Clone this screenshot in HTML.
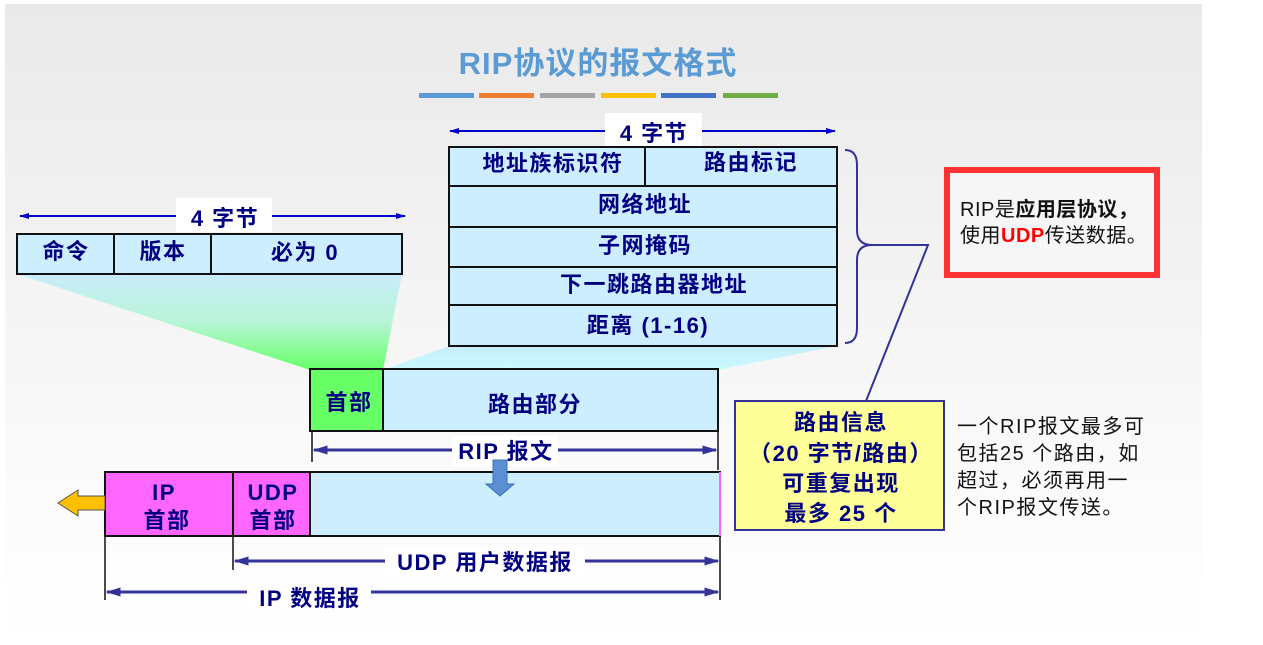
<!DOCTYPE html>
<html><head><meta charset="utf-8"><style>
html,body{margin:0;padding:0;background:#fff;}
svg{display:block;}
text{font-family:"Liberation Sans","Noto Sans CJK SC",sans-serif;}
.b{font-weight:bold;fill:#000080;font-size:22px;letter-spacing:1.5px;}
</style></head><body>
<svg width="1263" height="645" xmlns="http://www.w3.org/2000/svg">
<defs>
<linearGradient id="bg" x1="0" y1="0" x2="0" y2="1"><stop offset="0" stop-color="#e9e9e9"/><stop offset="0.75" stop-color="#fbfbfb"/><stop offset="1" stop-color="#ffffff"/></linearGradient>
<linearGradient id="gl" x1="0" y1="0" x2="0" y2="1"><stop offset="0" stop-color="#c8ecfb"/><stop offset="0.5" stop-color="#b8f5d8"/><stop offset="1" stop-color="#66ff66"/></linearGradient>
<linearGradient id="gr" x1="0" y1="0" x2="0" y2="1"><stop offset="0" stop-color="#c8ecfb"/><stop offset="1" stop-color="#c8fbff"/></linearGradient>
<marker id="ah" viewBox="0 0 10 10" refX="9" refY="5" markerWidth="5" markerHeight="5" orient="auto-start-reverse"><path d="M0,2 L10,5 L0,8 z" fill="#0000cc"/></marker>
<marker id="ah2" viewBox="0 0 10 10" refX="9" refY="5" markerWidth="5" markerHeight="5" orient="auto-start-reverse"><path d="M0,2 L10,5 L0,8 z" fill="#333399"/></marker>
</defs>
<rect x="5" y="4" width="1197" height="641" fill="url(#bg)"/>
<text x="598" y="74" text-anchor="middle" font-size="31" fill="#5b9bd5" font-weight="bold" letter-spacing="1">RIP协议的报文格式</text>
<rect x="419" y="93" width="55" height="5" fill="#5b9bd5"/>
<rect x="479" y="93" width="55" height="5" fill="#ed7d31"/>
<rect x="540" y="93" width="55" height="5" fill="#a5a5a5"/>
<rect x="601" y="93" width="55" height="5" fill="#ffc000"/>
<rect x="661" y="93" width="55" height="5" fill="#4472c4"/>
<rect x="723" y="93" width="55" height="5" fill="#70ad47"/>
<polygon points="17,274 402,274 383,370 310,370" fill="url(#gl)"/>
<polygon points="449,346 837,346 718,370 383,370" fill="url(#gr)"/>
<line x1="450" y1="131" x2="835" y2="131" stroke="#0000cc" stroke-width="2" marker-start="url(#ah)" marker-end="url(#ah)"/>
<rect x="605" y="113" width="97" height="34" fill="#fff"/>
<text x="654" y="141" text-anchor="middle" class="b">4 字节</text>
<g stroke="#111" stroke-width="2" fill="#cceeff">
<rect x="449" y="147" width="388" height="199"/>
<line x1="449" y1="186" x2="837" y2="186"/>
<line x1="449" y1="227" x2="837" y2="227"/>
<line x1="449" y1="267" x2="837" y2="267"/>
<line x1="449" y1="305" x2="837" y2="305"/>
<line x1="645" y1="147" x2="645" y2="186"/>
</g>
<text x="553" y="171" text-anchor="middle" class="b">地址族标识符</text>
<text x="751" y="170" text-anchor="middle" class="b">路由标记</text>
<text x="645" y="212" text-anchor="middle" class="b">网络地址</text>
<text x="645" y="253" text-anchor="middle" class="b">子网掩码</text>
<text x="654" y="292" text-anchor="middle" class="b">下一跳路由器地址</text>
<text x="648" y="333" text-anchor="middle" class="b">距离 (1-16)</text>
<path d="M845,150 Q857,150 857,165 L857,230 Q857,245 872,245 Q857,245 857,260 L857,328 Q857,343 845,343" fill="none" stroke="#333399" stroke-width="2"/>
<polyline points="872,245 928,245 866,401" fill="none" stroke="#333399" stroke-width="2"/>
<line x1="20" y1="216" x2="405" y2="216" stroke="#0000cc" stroke-width="2" marker-start="url(#ah)" marker-end="url(#ah)"/>
<rect x="176" y="198" width="96" height="34" fill="#fff"/>
<text x="225" y="226" text-anchor="middle" class="b">4 字节</text>
<g stroke="#111" stroke-width="2" fill="#cceeff">
<rect x="17" y="234" width="385" height="40"/>
<line x1="114" y1="234" x2="114" y2="274"/>
<line x1="211" y1="234" x2="211" y2="274"/>
</g>
<text x="66" y="259" text-anchor="middle" class="b">命令</text>
<text x="163" y="259" text-anchor="middle" class="b">版本</text>
<text x="305" y="260" text-anchor="middle" class="b">必为 0</text>
<rect x="310" y="369" width="73" height="62" fill="#66ff66" stroke="#111" stroke-width="2"/>
<rect x="383" y="369" width="335" height="62" fill="#cceeff" stroke="#111" stroke-width="2"/>
<text x="349" y="410" text-anchor="middle" class="b">首部</text>
<text x="535" y="412" text-anchor="middle" class="b">路由部分</text>
<line x1="312" y1="431" x2="312" y2="462" stroke="#111" stroke-width="1.5"/>
<line x1="718" y1="431" x2="718" y2="470" stroke="#111" stroke-width="1.5"/>
<line x1="314" y1="450" x2="716" y2="450" stroke="#333399" stroke-width="3" marker-start="url(#ah2)" marker-end="url(#ah2)"/>
<rect x="452" y="436" width="106" height="30" fill="#fff"/>
<text x="506" y="459" text-anchor="middle" class="b">RIP 报文</text>
<rect x="105" y="472" width="128" height="64" fill="#ff66ff" stroke="#111" stroke-width="2"/>
<rect x="233" y="472" width="77" height="64" fill="#ff66ff" stroke="#111" stroke-width="2"/>
<rect x="310" y="472" width="410" height="64" fill="#cceeff" stroke="#111" stroke-width="2"/>
<line x1="720" y1="472" x2="720" y2="536" stroke="#ff66ff" stroke-width="2"/>
<text x="164" y="500" text-anchor="middle" class="b">IP</text>
<text x="167" y="528" text-anchor="middle" class="b">首部</text>
<text x="273" y="500" text-anchor="middle" class="b">UDP</text>
<text x="273" y="528" text-anchor="middle" class="b">首部</text>
<polygon points="493,460 507,460 507,484 514,484 500,496 486,484 493,484" fill="#5b8fd5" stroke="#3a6fb0" stroke-width="1"/>
<polygon points="105,496 78,496 78,490 58,503 78,516 78,510 105,510" fill="#ffc000" stroke="#555" stroke-width="1"/>
<line x1="233" y1="536" x2="233" y2="570" stroke="#111" stroke-width="1.5"/>
<line x1="105" y1="536" x2="105" y2="600" stroke="#111" stroke-width="1.5"/>
<line x1="720" y1="536" x2="720" y2="600" stroke="#111" stroke-width="1.5"/>
<line x1="235" y1="561" x2="718" y2="561" stroke="#333399" stroke-width="3" marker-start="url(#ah2)" marker-end="url(#ah2)"/>
<rect x="385" y="546" width="200" height="32" fill="#fff"/>
<text x="485" y="570" text-anchor="middle" class="b">UDP 用户数据报</text>
<line x1="107" y1="592" x2="718" y2="592" stroke="#333399" stroke-width="3" marker-start="url(#ah2)" marker-end="url(#ah2)"/>
<rect x="247" y="578" width="124" height="32" fill="#fff"/>
<text x="310" y="606" text-anchor="middle" class="b">IP 数据报</text>
<rect x="735" y="401" width="209" height="129" fill="#ffff99" stroke="#333399" stroke-width="2"/>
<text x="841" y="430" text-anchor="middle" class="b">路由信息</text>
<text x="841" y="461" text-anchor="middle" class="b">（20 字节/路由）</text>
<text x="841" y="491" text-anchor="middle" class="b">可重复出现</text>
<text x="841" y="521" text-anchor="middle" class="b">最多 25 个</text>
<g font-size="20" fill="#111" letter-spacing="1.5" font-family="Liberation Serif, Noto Serif CJK SC, serif">
<text x="957" y="433">一个RIP报文最多可</text>
<text x="957" y="460">包括25 个路由，如</text>
<text x="957" y="487">超过，必须再用一</text>
<text x="957" y="514">个RIP报文传送。</text>
</g>
<rect x="947" y="170" width="210" height="105" fill="#f6f6f6" stroke="#ff3333" stroke-width="6"/>
<text x="960" y="216" font-size="20" fill="#111" letter-spacing="0.5">RIP是<tspan font-weight="bold">应用层协议，</tspan></text>
<text x="960" y="242" font-size="20" fill="#111" letter-spacing="0.5">使用<tspan font-weight="bold" fill="#ff0000">UDP</tspan>传送数据。</text>
</svg>
</body></html>
